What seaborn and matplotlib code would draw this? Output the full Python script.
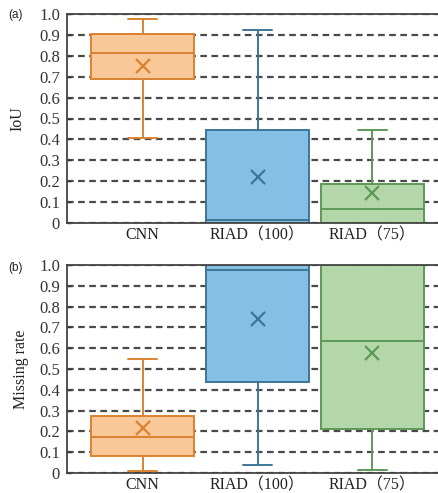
import pandas as pd
import numpy as np
import seaborn as sns
import matplotlib.pyplot as plt

# five-number summaries + means
models = ["CNN", "RIAD（100）", "RIAD（75）"]

iou_min = [0.406, 0.0, 0.0]
iou_q1 = [0.690, 0.0, 0.0]
iou_med = [0.814, 0.014, 0.066]
iou_q3 = [0.906, 0.443, 0.187]
iou_max = [0.977, 0.922, 0.443]
iou_mean = [0.750, 0.222, 0.142]

miss_min = [0.010, 0.038, 0.014]
miss_q1 = [0.083, 0.436, 0.212]
miss_med = [0.175, 0.976, 0.635]
miss_q3 = [0.276, 1.0, 1.0]
miss_max = [0.548, 1.0, 1.0]
miss_mean = [0.218, 0.740, 0.575]

yticks = [0, 0.1, 0.2, 0.3, 0.4, 0.5, 0.6, 0.7, 0.8, 0.9, 1.0]
ytick_labels = ["0", "0.1", "0.2", "0.3", "0.4", "0.5", "0.6", "0.7", "0.8", "0.9", "1.0"]

fills = ["#F9C898", "#86BFE5", "#B3D7A9"]
edges = ["#DA8230", "#3E7698", "#5E9857"]


def to_long(mins, q1s, meds, q3s, maxs):
    rows = []
    for i, m in enumerate(models):
        for v in (mins[i], q1s[i], meds[i], q3s[i], maxs[i]):
            rows.append({"model": m, "value": v})
    return pd.DataFrame(rows)


df_iou = to_long(iou_min, iou_q1, iou_med, iou_q3, iou_max)
df_miss = to_long(miss_min, miss_q1, miss_med, miss_q3, miss_max)

sns.set_theme(style="white")
plt.rcParams['font.family'] = ['Liberation Serif', 'Noto Sans CJK SC']

fig = plt.figure(figsize=(4.38, 4.93), dpi=100)
W, H = 438.0, 493.0
ax1 = fig.add_axes([67 / W, (H - 223) / H, 381 / W, 209 / H])
ax2 = fig.add_axes([67 / W, (H - 473) / H, 381 / W, 208 / H])


def draw(ax, df, means, ylabel, label_x):
    ax.set_axisbelow(True)
    ax.yaxis.grid(True, linestyle=(0, (3, 2)), color="#4a4a4a", linewidth=1.6)
    for i, m in enumerate(models):
        sns.boxplot(data=df[df.model == m], x="model", y="value", order=models,
                    color=fills[i], linecolor=edges[i], saturation=1,
                    whis=(0, 100), width=0.9, linewidth=1.4, capwidths=0.25,
                    ax=ax)
    sns.pointplot(x=models, y=means, order=models, hue=models, palette=edges,
                  marker="x", markersize=10.5, markeredgewidth=1.6,
                  linestyle="none", errorbar=None, legend=False, ax=ax)
    ax.set_xlim(-0.66, 2.66)
    ax.set_ylim(0, 1.0)
    ax.set_yticks(yticks)
    ax.set_yticklabels(ytick_labels)
    ax.tick_params(axis="y", direction="in", length=3, width=1, pad=5,
                   labelsize=12, colors="#333333", left=True)
    ax.tick_params(axis="x", length=0, pad=3, labelsize=11.5, colors="#222222")
    ax.set_xlabel("")
    ax.set_ylabel(ylabel, fontsize=11.5, color="#222222")
    ax.yaxis.set_label_coords(label_x, 0.5)
    for s in ["left", "top", "bottom"]:
        ax.spines[s].set_color("#444444")
        ax.spines[s].set_linewidth(1.3)
    ax.spines["right"].set_visible(False)


draw(ax1, df_iou, iou_mean, "IoU", -0.11)
draw(ax2, df_miss, miss_mean, "Missing rate", -0.10)

fig.text(8 / W, 1 - 18 / H, "(a)", fontsize=8.5, family="Liberation Sans", color="#222222")
fig.text(8 / W, 1 - 271 / H, "(b)", fontsize=8.5, family="Liberation Sans", color="#222222")

fig.savefig("out.png", dpi=100)
